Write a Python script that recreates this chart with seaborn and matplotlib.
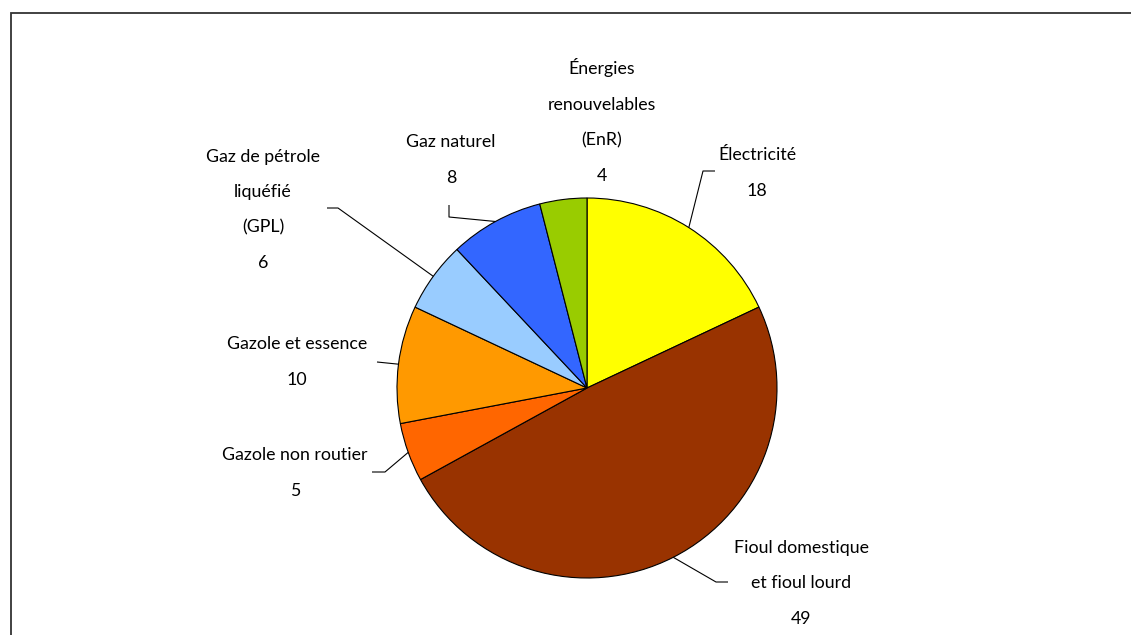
import matplotlib
matplotlib.use("Agg")
import matplotlib.pyplot as plt
from matplotlib import font_manager
import numpy as np
import seaborn as sns

# Energy consumption shares (%) by source, clockwise from 12 o'clock
labels = [
    "Électricité",
    "Fioul domestique\net fioul lourd",
    "Gazole non routier",
    "Gazole et essence",
    "Gaz de pétrole\nliquéfié\n(GPL)",
    "Gaz naturel",
    "Énergies\nrenouvelables\n(EnR)",
]
values = [18, 49, 5, 10, 6, 8, 4]
colors = ["#FFFF00", "#993300", "#FF6600", "#FF9900", "#99CCFF", "#3366FF", "#99CC00"]

sns.set_theme(style="white")
installed = {f.name for f in font_manager.fontManager.ttflist}
family = "Liberation Sans Narrow" if "Liberation Sans Narrow" in installed else "Lato"
plt.rcParams["font.family"] = [family, "DejaVu Sans"]

W, H = 1131, 635
fig = plt.figure(figsize=(W / 100, H / 100), dpi=100)
ax = fig.add_axes([0, 0, 1, 1])

cx, cy, R = 587, H - 388, 190
palette = sns.color_palette(colors)
wedges, _ = ax.pie(
    values,
    colors=palette,
    startangle=90,
    counterclock=False,
    center=(cx, cy),
    radius=R,
    wedgeprops=dict(edgecolor="black", linewidth=0.8),
)
ax.set_xlim(0, W)
ax.set_ylim(0, H)
ax.set_aspect("equal")
ax.axis("off")

# label block centres (pixels from top-left) and leader elbows
label_pos = [(757, 173), (801, 583), (295, 473), (297, 362), (263, 210), (451, 160), (602, 121)]
leaders = [
    [(703, 171), (715, 171)],
    [(716, 582), (728, 582)],
    [(385, 472), (372, 472)],
    [(377, 362)],
    [(338, 208), (327, 208)],
    [(449, 217), (449, 205)],
    None,
]

total = sum(values)
start = 0.0
for lab, val, pos, lead in zip(labels, values, label_pos, leaders):
    mid = (start + val / 2) / total * 2 * np.pi
    start += val
    ex, ey = cx + R * np.sin(mid), cy + R * np.cos(mid)
    if lead:
        pts = [(ex, ey)] + [(px, H - py) for px, py in lead]
        xs, ys = zip(*pts)
        ax.plot(xs, ys, color="black", lw=0.8, solid_capstyle="butt")
    ax.text(pos[0], H - pos[1], f"{lab}\n{val}", ha="center", va="center",
            fontsize=12.8, linespacing=2.5, color="black")

# outer frame (left and top edges)
ax.plot([10.5, 10.5, W + 5], [-5, H - 12.5, H - 12.5], color="#333333", lw=1.3,
        solid_joinstyle="miter")

fig.savefig("out.png", dpi=100)
